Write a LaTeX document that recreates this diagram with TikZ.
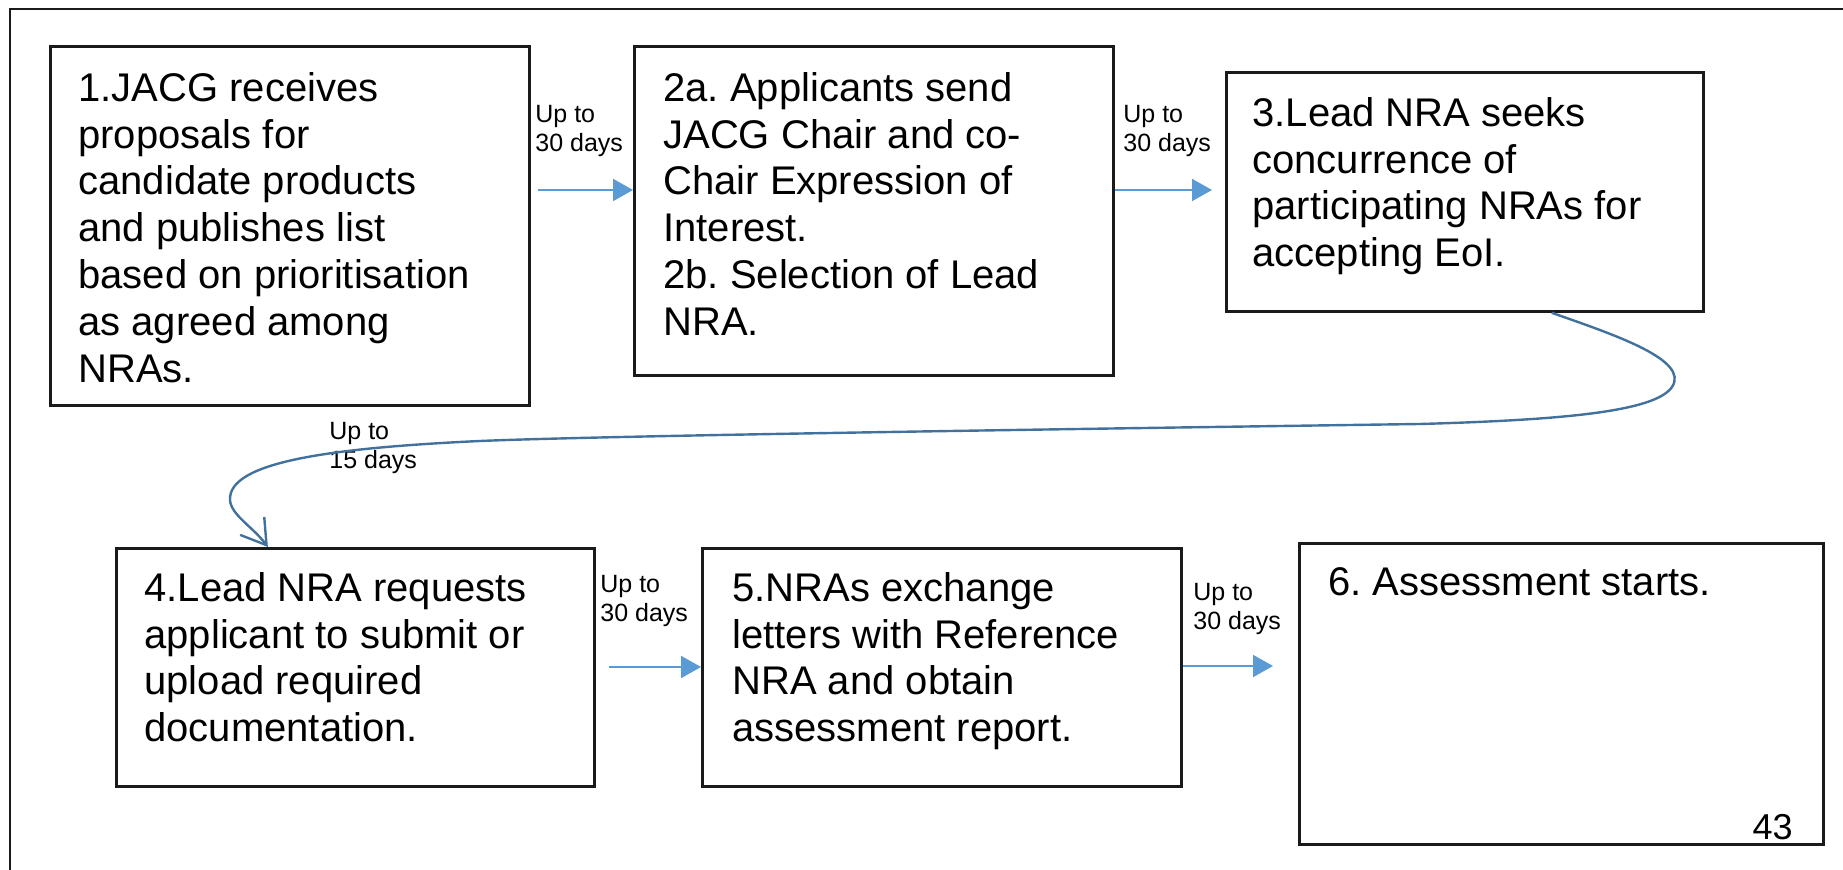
\documentclass[tikz,border=0pt]{standalone}
\usepackage{fontspec}
\setmainfont{Liberation Sans}
\usetikzlibrary{calc,arrows.meta}
\definecolor{flowblue}{HTML}{5B9BD5}
\definecolor{bendblue}{HTML}{41719C}
\definecolor{edgeblack}{HTML}{1A1A1A}
\frenchspacing

\begin{document}
\begin{tikzpicture}[x=0.5pt, y=-0.5pt,
  stepbox/.style={draw=edgeblack, line width=1.4pt, anchor=north west, inner sep=0pt},
  steptext/.style={anchor=north west, inner sep=0pt, align=left, font=\fontsize{20pt}{23.4pt}\selectfont},
  days/.style={anchor=north west, inner sep=0pt, align=left, font=\fontsize{12.5pt}{14.5pt}\selectfont},
  flow/.style={draw=flowblue, line width=1pt, -{Triangle[length=10pt,width=11pt]}},
  bendline/.style={draw=bendblue, line width=1.2pt, -{Straight Barb[length=12pt,width=15pt]}}]
  \useasboundingbox (0,0) rectangle (1843,870);

  % page frame
  \draw[edgeblack, line width=1.2pt] (10,870) -- (10,9) -- (1843,9);

  % top row
  \node[stepbox, minimum width=239.5pt, minimum height=179.5pt] (b1) at (49,45) {};
  \node[steptext] (t1) at (78,72) {1.JACG receives\\proposals for\\candidate products\\and publishes list\\based on prioritisation\\as agreed among\\NRAs.};
  \node[stepbox, minimum width=239.5pt, minimum height=164.5pt] (b2) at (633,45) {};
  \node[steptext] (t2) at (663,72) {2a. Applicants send\\JACG Chair and co-\\Chair Expression of\\Interest.\\2b. Selection of Lead\\NRA.};
  \node[stepbox, minimum width=238.5pt, minimum height=119.5pt] (b3) at (1225,71) {};
  \node[steptext] (t3) at (1252,97) {3.Lead NRA seeks\\concurrence of\\participating NRAs for\\accepting EoI.};

  % bottom row
  \node[stepbox, minimum width=239pt, minimum height=119pt] (b4) at (115,547) {};
  \node[steptext] (t4) at (144,572) {4.Lead NRA requests\\applicant to submit or\\upload required\\documentation.};
  \node[stepbox, minimum width=239.5pt, minimum height=119pt] (b5) at (701,547) {};
  \node[steptext] (t5) at (732,572) {5.NRAs exchange\\letters with Reference\\NRA and obtain\\assessment report.};
  \node[stepbox, minimum width=262pt, minimum height=150.5pt] (b6) at (1298,542) {};
  \node[steptext] (t6) at (1328,567) {6. Assessment starts.};
  \node[anchor=base east, inner sep=0pt, font=\fontsize{18pt}{20pt}\selectfont] (pgno) at (1793,840) {43};

  % time labels
  \node[days] (d12) at (535,105) {Up to\\30 days};
  \node[days] (d23) at (1123,105) {Up to\\30 days};
  \node[days] (d34) at (329,422) {Up to\\15 days};
  \node[days] (d45) at (600,575) {Up to\\30 days};
  \node[days] (d56) at (1193,583) {Up to\\30 days};

  % arrows
  \draw[flow] ([shift={(7,145)}]b1.north east) -- ([shift={(0,145)}]b2.north west);
  \draw[flow] ([shift={(0,145)}]b2.north east) -- ([shift={(-13,119)}]b3.north west);
  \draw[flow] ([shift={(13,120)}]b4.north east) -- ([shift={(0,120)}]b5.north west);
  \draw[flow] ([shift={(0,119)}]b5.north east) -- ([shift={(-25,124)}]b6.north west);
  \draw[bendline] ($(b3.south west)!0.681!(b3.south east)$)
    .. controls (1615,335) and (1690,360) .. (1672,387)
    .. controls (1655,412) and (1560,420) .. (1420,424)
    .. controls (1000,430) and (600,436) .. (480,441)
    .. controls (330,448) and (228,462) .. (230,500)
    .. controls (231,515) and (253,527) .. ($(b4.north west)!0.318!(b4.north east)$);
\end{tikzpicture}
\end{document}
